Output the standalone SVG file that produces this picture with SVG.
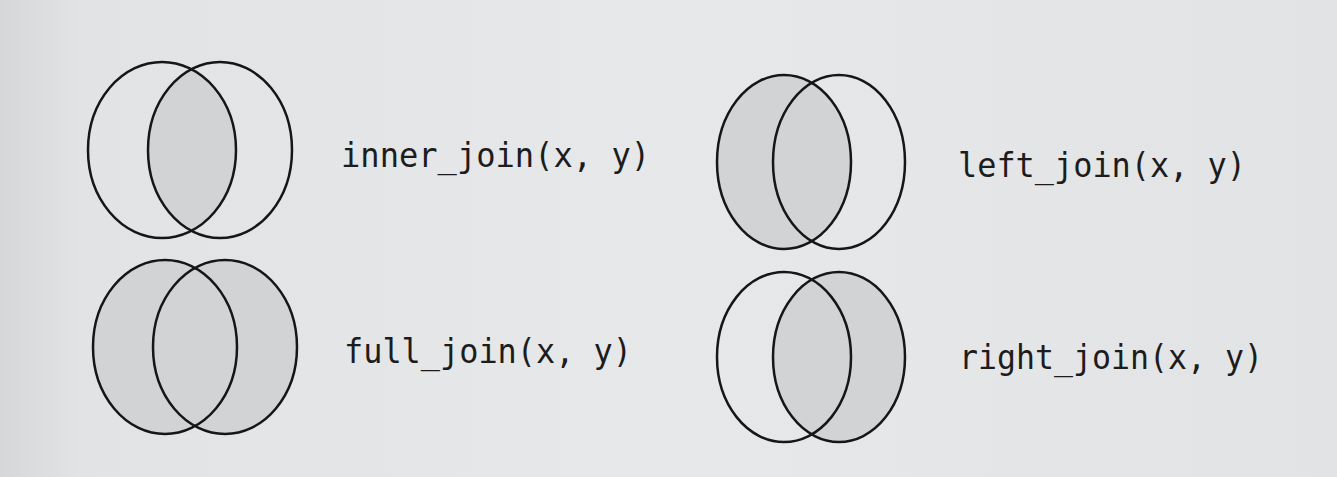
<svg xmlns="http://www.w3.org/2000/svg" width="1337" height="477" viewBox="0 0 1337 477">
  <defs>
    <linearGradient id="bg" x1="0" y1="0" x2="1" y2="0">
      <stop offset="0" stop-color="#d6d7d9"/>
      <stop offset="0.06" stop-color="#e2e3e5"/>
      <stop offset="0.5" stop-color="#e7e8ea"/>
      <stop offset="1" stop-color="#e2e3e5"/>
    </linearGradient>
    <clipPath id="innerA"><ellipse cx="162" cy="150" rx="74" ry="88"/></clipPath>
  </defs>
  <style>
    .ring { fill: none; stroke: #161616; stroke-width: 2.5; }
    .shade { fill: #d2d3d5; stroke: none; }
    .lbl { font-family: "DejaVu Sans Mono", "Liberation Mono", monospace; font-size: 34px; fill: #1c1c1c; }
  </style>
  <rect width="1337" height="477" fill="url(#bg)"/>

  <g id="inner_join">
    <ellipse class="shade" cx="220" cy="150" rx="72" ry="88" clip-path="url(#innerA)"/>
    <ellipse class="ring" cx="162" cy="150" rx="74" ry="88"/>
    <ellipse class="ring" cx="220" cy="150" rx="72" ry="88"/>
    <text class="lbl" x="341" y="167" textLength="309" lengthAdjust="spacingAndGlyphs">inner_join(x, y)</text>
  </g>

  <g id="left_join">
    <ellipse class="shade" cx="784" cy="162" rx="67" ry="87"/>
    <ellipse class="ring" cx="784" cy="162" rx="67" ry="87"/>
    <ellipse class="ring" cx="839" cy="162" rx="66" ry="87"/>
    <text class="lbl" x="958" y="177" textLength="288" lengthAdjust="spacingAndGlyphs">left_join(x, y)</text>
  </g>

  <g id="full_join">
    <ellipse class="shade" cx="165" cy="347" rx="72" ry="87"/>
    <ellipse class="shade" cx="225" cy="347" rx="72" ry="87"/>
    <ellipse class="ring" cx="165" cy="347" rx="72" ry="87"/>
    <ellipse class="ring" cx="225" cy="347" rx="72" ry="87"/>
    <text class="lbl" x="344" y="363" textLength="288" lengthAdjust="spacingAndGlyphs">full_join(x, y)</text>
  </g>

  <g id="right_join">
    <ellipse class="shade" cx="839" cy="357" rx="66" ry="85"/>
    <ellipse class="ring" cx="784" cy="357" rx="67" ry="85"/>
    <ellipse class="ring" cx="839" cy="357" rx="66" ry="85"/>
    <text class="lbl" x="959" y="369" textLength="304" lengthAdjust="spacingAndGlyphs">right_join(x, y)</text>
  </g>

  <g id="connectors"/>
</svg>
